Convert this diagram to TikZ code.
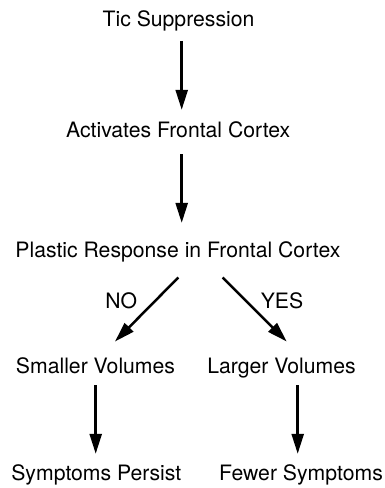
\documentclass[tikz,border=0pt]{standalone}
\usepackage{fontspec}
\setmainfont{TeX Gyre Heros}
\usepackage{tikz}
\usetikzlibrary{arrows.meta, positioning, calc}

\begin{document}
\begin{tikzpicture}[x=1pt, y=1pt,
    step label/.style={font=\fontsize{21.2}{25}\selectfont, inner sep=0pt, anchor=base, text height=15.2pt, text depth=4.5pt},
    arrow/.style={-{Triangle[length=20pt, width=12pt]}, line width=2.5pt}]

    \useasboundingbox (0,0) rectangle (384,-488);

    \node[step label] (tic) at (178.5,-26.7) {Tic Suppression};
    \node[step label] (frontal) at (178.2,-137.7) {Activates Frontal Cortex};
    \node[step label] (plastic) at (177.9,-257.3) {Plastic Response in Frontal Cortex};
    \node[step label] (smaller) at (95.5,-373) {Smaller Volumes};
    \node[step label] (larger) at (281.5,-373) {Larger Volumes};
    \node[step label] (persist) at (96.3,-480.7) {Symptoms Persist};
    \node[step label] (fewer) at (301,-480.7) {Fewer Symptoms};

    \node[step label] (no) at (121.3,-308.3) {NO};
    \node[step label] (yes) at (282,-308.3) {YES};

    \draw[arrow, shorten <=9.5pt, shorten >=12.5pt] ([xshift=3.2pt]tic.south) -- ([xshift=3.5pt]frontal.north);
    \draw[arrow, shorten <=11.8pt, shorten >=19pt] ([xshift=3.5pt]frontal.south) -- ([xshift=3.8pt]plastic.north);

    \draw[arrow] ([xshift=0.4pt, yshift=-15.5pt]plastic.south) -- ([xshift=19.5pt, yshift=16.1pt]smaller.north);
    \draw[arrow] ([xshift=44.8pt, yshift=-15.5pt]plastic.south) -- ([xshift=5.2pt, yshift=16.1pt]larger.north);

    \draw[arrow, shorten <=7.5pt, shorten >=11.5pt] ([xshift=0.2pt]smaller.south) -- ([xshift=-0.6pt]persist.north);
    \draw[arrow, shorten <=7.5pt, shorten >=11.5pt] ([xshift=16.2pt]larger.south) -- ([xshift=-3.3pt]fewer.north);

\end{tikzpicture}
\end{document}
